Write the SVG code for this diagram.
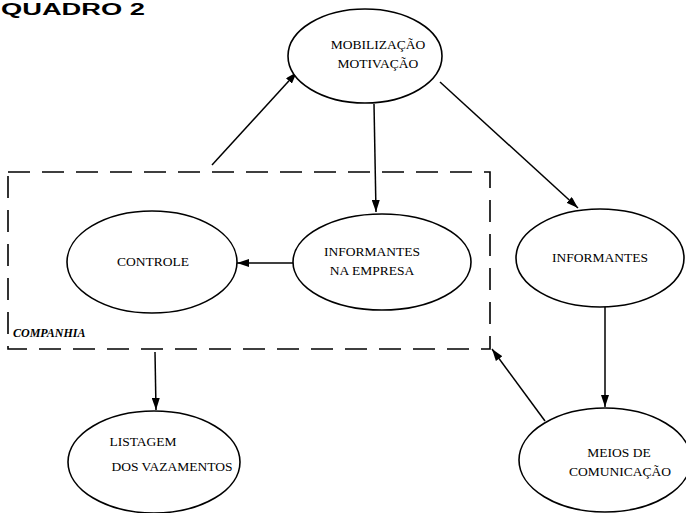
<svg xmlns="http://www.w3.org/2000/svg" width="686" height="513" viewBox="0 0 686 513">
  <style>
    .node ellipse { fill: #fff; stroke: #000; stroke-width: 1.6; }
    .lbl { font-family: "Liberation Serif", "DejaVu Serif", serif; font-size: 13.5px; fill: #000; text-anchor: middle; }
    .edge { fill: none; stroke: #000; stroke-width: 1.5; marker-end: url(#arrow); }
    .frame { fill: none; stroke: #000; stroke-width: 1.6; stroke-dasharray: 22 12; }
  </style>
  <defs>
    <marker id="arrow" viewBox="0 0 12 8" refX="12" refY="4" markerWidth="12" markerHeight="8" markerUnits="userSpaceOnUse" orient="auto">
      <path d="M0,0 L12,4 L0,8 Z" fill="#000"/>
    </marker>
  </defs>
  <rect width="686" height="513" fill="#fff"/>

  <text x="1" y="15" font-family="Liberation Sans, Arial, sans-serif" font-weight="bold" font-size="16" textLength="144" lengthAdjust="spacingAndGlyphs">QUADRO 2</text>

  <!-- company boundary -->
  <g id="companhia">
    <rect class="frame" x="8" y="172" width="482" height="177"/>
    <text x="13" y="337" font-family="Liberation Serif, serif" font-style="italic" font-weight="bold" font-size="12">COMPANHIA</text>
  </g>

  <g id="edges">
    <line class="edge" x1="212" y1="165" x2="297" y2="72"/>
    <line class="edge" x1="374" y1="104" x2="376" y2="212"/>
    <line class="edge" x1="440" y1="82" x2="578" y2="208"/>
    <line class="edge" x1="293" y1="263" x2="237" y2="263"/>
    <line class="edge" x1="605" y1="306" x2="605" y2="407"/>
    <line class="edge" x1="545" y1="421" x2="492" y2="349"/>
    <line class="edge" x1="155" y1="352" x2="156" y2="410"/>
  </g>

  <g id="mobilizacao" class="node">
    <ellipse cx="365" cy="56" rx="77" ry="47"/>
    <text class="lbl" x="378" y="49">MOBILIZAÇÃO</text>
    <text class="lbl" x="378" y="68">MOTIVAÇÃO</text>
  </g>

  <g id="controle" class="node">
    <ellipse cx="152" cy="262" rx="85" ry="51"/>
    <text class="lbl" x="153" y="266">CONTROLE</text>
  </g>

  <g id="informantes-empresa" class="node">
    <ellipse cx="382" cy="262" rx="89" ry="48"/>
    <text class="lbl" x="372" y="256">INFORMANTES</text>
    <text class="lbl" x="372" y="275">NA  EMPRESA</text>
  </g>

  <g id="informantes" class="node">
    <ellipse cx="600" cy="258" rx="84" ry="49"/>
    <text class="lbl" x="600" y="262">INFORMANTES</text>
  </g>

  <g id="meios" class="node">
    <ellipse cx="605" cy="460" rx="86" ry="52"/>
    <text class="lbl" x="619" y="457">MEIOS DE</text>
    <text class="lbl" x="620" y="476">COMUNICAÇÃO</text>
  </g>

  <g id="listagem" class="node">
    <ellipse cx="154" cy="462" rx="86" ry="51"/>
    <text class="lbl" x="143" y="446">LISTAGEM</text>
    <text class="lbl" x="172" y="471">DOS VAZAMENTOS</text>
  </g>
</svg>
